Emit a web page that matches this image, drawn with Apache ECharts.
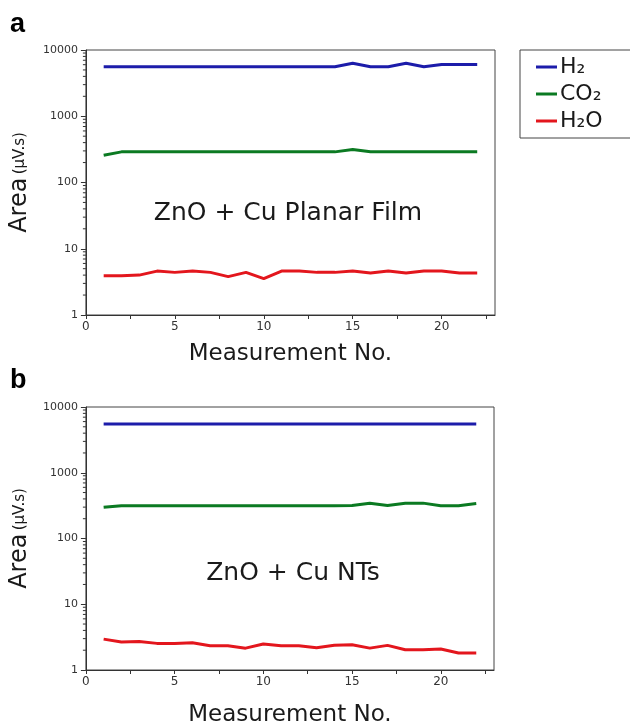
<!DOCTYPE html>
<html>
<head>
<meta charset="utf-8">
<script src="https://cdn.jsdelivr.net/npm/echarts@6/dist/echarts.min.js"></script>
<style>
  html, body { margin: 0; padding: 0; background: #fff; }
  #chart { width: 630px; height: 728px; }
</style>
</head>
<body>
<div id="chart"></div>
<script>
// == Data ====================================================================

const measurement = [1, 2, 3, 4, 5, 6, 7, 8, 9, 10, 11, 12, 13, 14, 15, 16, 17, 18, 19, 20, 21, 22]

// panel a: ZnO + Cu planar film
const planarH2 = [5600, 5600, 5600, 5600, 5600, 5600, 5600, 5600, 5600, 5600, 5600,
  5600, 5600, 5600, 6300, 5600, 5600, 6300, 5600, 6050, 6050, 6050]
const planarCO2 = [258, 290, 290, 290, 290, 290, 290, 290, 290, 290, 290,
  290, 290, 290, 316, 292, 290, 290, 290, 290, 290, 290]
const planarH2O = [3.9, 3.9, 4.0, 4.6, 4.4, 4.6, 4.4, 3.8, 4.4, 3.55, 4.6,
  4.6, 4.4, 4.4, 4.6, 4.3, 4.6, 4.3, 4.6, 4.6, 4.3, 4.3]

// panel b: ZnO + Cu NTs
const ntsH2 = [5500, 5500, 5500, 5500, 5500, 5500, 5500, 5500, 5500, 5500, 5500,
  5500, 5500, 5500, 5500, 5500, 5500, 5500, 5500, 5500, 5500, 5500]
const ntsCO2 = [298, 316, 316, 316, 316, 316, 316, 316, 316, 316, 316,
  316, 316, 316, 318, 345, 318, 345, 345, 316, 316, 340]
const ntsH2O = [2.95, 2.66, 2.72, 2.54, 2.54, 2.59, 2.33, 2.33, 2.15, 2.48, 2.33,
  2.33, 2.18, 2.37, 2.42, 2.15, 2.37, 2.03, 2.03, 2.08, 1.81, 1.81]

// minor ticks of the log axis (2..9 per decade)
const logMinorTicks = [2, 3, 4, 5, 6, 7, 8, 9,
  20, 30, 40, 50, 60, 70, 80, 90,
  200, 300, 400, 500, 600, 700, 800, 900,
  2000, 3000, 4000, 5000, 6000, 7000, 8000, 9000]

const gasNames = ['H₂', 'CO₂', 'H₂O']
const gasColors = ['#1c1caa', '#0b7a22', '#e3161d']
const panelLabels = ['a', 'b']
const sampleLabels = ['ZnO + Cu Planar Film', 'ZnO + Cu NTs']
const xName = 'Measurement No.'

// == Helpers =================================================================

const FONT = 'DejaVu Sans'

const pairs = values => measurement.map((m, i) => [m, values[i]])

const xAxisFor = (gridIndex, nameGap) => ({
  type: 'value',
  gridIndex,
  min: 0,
  max: 23,
  interval: 2.5,
  name: xName,
  nameLocation: 'middle',
  nameGap,
  nameTextStyle: { fontFamily: FONT, fontSize: 23, color: '#1a1a1a' },
  axisLine: { show: true, lineStyle: { color: '#333', width: 1 } },
  axisTick: { show: true, inside: false, length: 4, lineStyle: { color: '#333' } },
  axisLabel: {
    margin: 6,
    fontFamily: FONT,
    fontSize: 12,
    color: '#333',
    showMaxLabel: false,
    formatter: v => (v % 5 === 0 ? String(v) : '')
  },
  splitLine: { show: false }
})

const yAxisFor = gridIndex => ({
  type: 'log',
  gridIndex,
  logBase: 10,
  min: 1,
  max: 10000,
  name: '{big|Area} {small|(μV.s)}',
  nameLocation: 'middle',
  nameGap: 52,
  nameTextStyle: {
    rich: {
      big: { fontFamily: FONT, fontSize: 24, color: '#1a1a1a' },
      small: { fontFamily: FONT, fontSize: 15, color: '#1a1a1a' }
    }
  },
  axisLine: { show: true, lineStyle: { color: '#333', width: 1 } },
  axisTick: { show: true, inside: false, length: 5, lineStyle: { color: '#333' } },
  axisLabel: { margin: 8, fontFamily: FONT, fontSize: 11, color: '#333', formatter: v => String(v) },
  splitLine: { show: false }
})

const lineSeries = (name, values, axisIndex, color) => ({
  name,
  type: 'line',
  xAxisIndex: axisIndex,
  yAxisIndex: axisIndex,
  data: pairs(values),
  showSymbol: false,
  symbol: 'none',
  lineStyle: { color, width: 3 },
  itemStyle: { color },
  z: 3
})

// short outward ticks on the left axis, placed through the log scale
const minorTickSeries = axisIndex => ({
  type: 'custom',
  xAxisIndex: axisIndex,
  yAxisIndex: axisIndex,
  silent: true,
  clip: false,
  data: logMinorTicks.map(v => [0, v]),
  renderItem: (params, api) => {
    const pt = api.coord([api.value(0), api.value(1)])
    return {
      type: 'line',
      shape: { x1: pt[0] - 3, y1: pt[1], x2: pt[0], y2: pt[1] },
      style: { stroke: '#333', lineWidth: 1 }
    }
  }
})

// == Chart ===================================================================

const option = {
  backgroundColor: '#fff',
  animation: false,
  title: [
    { text: panelLabels[0], left: 5, top: 6, textStyle: { fontFamily: 'Liberation Sans', fontSize: 27, fontWeight: 'bold', color: '#000' } },
    { text: panelLabels[1], left: 5, top: 362, textStyle: { fontFamily: 'Liberation Sans', fontSize: 27, fontWeight: 'bold', color: '#000' } }
  ],
  legend: {
    left: 520,
    top: 50,
    orient: 'vertical',
    data: gasNames,
    icon: 'rect',
    itemWidth: 21,
    itemHeight: 3,
    itemGap: 5,
    padding: [6, 40, 6, 16],
    borderColor: '#444',
    borderWidth: 1,
    borderRadius: 0,
    textStyle: { fontFamily: FONT, fontSize: 22, color: '#1a1a1a', padding: [0, 0, 0, -2] }
  },
  grid: [
    { left: 84, top: 50, width: 411, height: 265, show: true, borderColor: '#444', borderWidth: 1, backgroundColor: 'transparent' },
    { left: 83, top: 407, width: 411, height: 265, show: true, borderColor: '#444', borderWidth: 1, backgroundColor: 'transparent' }
  ],
  xAxis: [xAxisFor(0, 28), xAxisFor(1, 34)],
  yAxis: [yAxisFor(0), yAxisFor(1)],
  graphic: [
    { type: 'text', x: 288, y: 213, style: { text: sampleLabels[0], fontFamily: FONT, fontSize: 25, fill: '#1a1a1a', align: 'center', verticalAlign: 'middle' } },
    { type: 'text', x: 293, y: 573, style: { text: sampleLabels[1], fontFamily: FONT, fontSize: 25, fill: '#1a1a1a', align: 'center', verticalAlign: 'middle' } }
  ],
  series: [
    minorTickSeries(0),
    minorTickSeries(1),
    lineSeries(gasNames[0], planarH2, 0, gasColors[0]),
    lineSeries(gasNames[1], planarCO2, 0, gasColors[1]),
    lineSeries(gasNames[2], planarH2O, 0, gasColors[2]),
    lineSeries(gasNames[0], ntsH2, 1, gasColors[0]),
    lineSeries(gasNames[1], ntsCO2, 1, gasColors[1]),
    lineSeries(gasNames[2], ntsH2O, 1, gasColors[2])
  ]
}

const myChart = echarts.init(document.getElementById('chart'), null, { renderer: 'canvas' })
myChart.setOption(option)
</script>
</body>
</html>
